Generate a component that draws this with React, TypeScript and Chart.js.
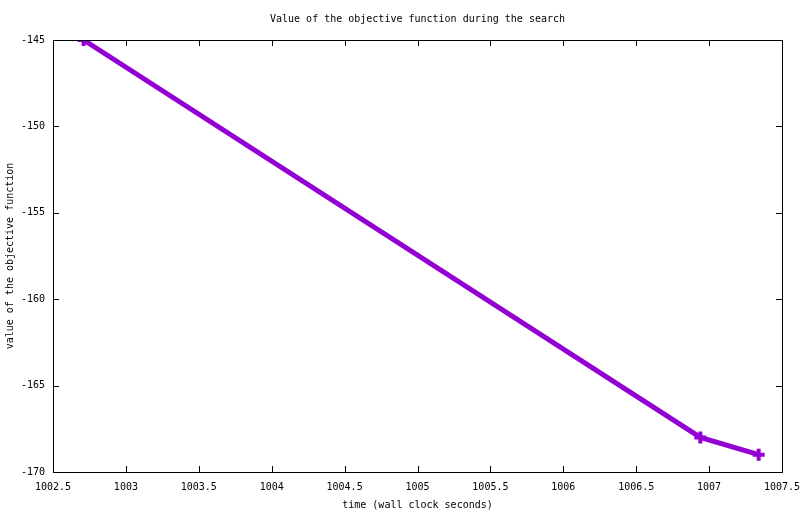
import React, { useEffect, useRef } from "react";
import { Chart, registerables } from "chart.js";

Chart.register(...registerables);

const titleText = "Value of the objective function during the search";
const xTitle = "time (wall clock seconds)";
const yTitle = "value of the objective function";
const timeValues = [1002.71, 1006.94, 1007.34];
const objectiveValues = [-145, -168, -169];
const xRange = [1002.5, 1007.5];
const yRange = [-170, -145];

const FONT = "'DejaVu Sans Mono', monospace";

const framePlugin = {
  id: "frame",
  afterDraw(chart: any) {
    const { ctx, chartArea } = chart;
    const { left, right, top, bottom } = chartArea;
    ctx.save();
    ctx.strokeStyle = "#000";
    ctx.lineWidth = 1;
    ctx.strokeRect(Math.round(left) + 0.5, Math.round(top) + 0.5, Math.round(right - left), Math.round(bottom - top));
    const xs = chart.scales.x;
    const ys = chart.scales.y;
    const len = 6;
    ctx.beginPath();
    xs.ticks.forEach((t: any) => {
      const px = Math.round(xs.getPixelForValue(t.value)) + 0.5;
      ctx.moveTo(px, bottom);
      ctx.lineTo(px, bottom - len);
      ctx.moveTo(px, top);
      ctx.lineTo(px, top + len);
    });
    ys.ticks.forEach((t: any) => {
      const py = Math.round(ys.getPixelForValue(t.value)) + 0.5;
      ctx.moveTo(left, py);
      ctx.lineTo(left + len, py);
      ctx.moveTo(right, py);
      ctx.lineTo(right - len, py);
    });
    ctx.stroke();
    ctx.fillStyle = "#000";
    ctx.font = `10px ${FONT}`;
    ctx.textAlign = "center";
    ctx.textBaseline = "middle";
    ctx.fillText(titleText, (left + right) / 2, 19);
    ctx.restore();
  },
};

export default function App() {
  const ref = useRef<HTMLCanvasElement | null>(null);
  useEffect(() => {
    document.body.style.margin = "0";
    const canvas = ref.current!;
    const chart = new Chart(canvas, {
      type: "line",
      data: {
        datasets: [
          {
            data: timeValues.map((x, i) => ({ x, y: objectiveValues[i] })),
            borderColor: "#9400D3",
            backgroundColor: "#9400D3",
            borderWidth: 5,
            tension: 0,
            pointStyle: "cross",
            pointRadius: 6,
            pointBorderWidth: 4,
            pointBorderColor: "#9400D3",
          },
        ],
      },
      options: {
        animation: false,
        responsive: false,
        devicePixelRatio: 1,
        layout: { padding: { top: 40, right: 18, left: 0, bottom: 0 } },
        plugins: { legend: { display: false }, tooltip: { enabled: false }, title: { display: false } },
        scales: {
          x: {
            type: "linear",
            min: xRange[0],
            max: xRange[1],
            grid: { display: false, drawTicks: false },
            border: { display: false },
            ticks: {
              stepSize: 0.5,
              padding: 9,
              color: "#000",
              font: { family: FONT, size: 10 },
              maxRotation: 0,
              callback: (v: any) => String(Math.round(Number(v) * 10) / 10),
            },
            title: { display: true, text: xTitle, color: "#000", font: { family: FONT, size: 10 }, padding: { top: 0, bottom: 3 } },
            afterFit: (s: any) => {
              s.height = 42;
              s.paddingLeft = 0;
              s.paddingRight = 0;
            },
          },
          y: {
            type: "linear",
            min: yRange[0],
            max: yRange[1],
            grid: { display: false, drawTicks: false },
            border: { display: false },
            ticks: {
              stepSize: 5,
              padding: 8,
              color: "#000",
              font: { family: FONT, size: 10 },
              callback: (v: any) => String(v),
            },
            title: { display: true, text: yTitle, color: "#000", font: { family: FONT, size: 10 }, padding: { top: 4, bottom: 0 } },
            afterFit: (s: any) => {
              s.width = 53;
              s.paddingTop = 0;
              s.paddingBottom = 0;
            },
          },
        },
      },
      plugins: [framePlugin],
    });
    return () => chart.destroy();
  }, []);
  return (
    <div style={{ width: 800, height: 514, background: "#fff" }}>
      <canvas ref={ref} width={800} height={514} />
    </div>
  );
}
